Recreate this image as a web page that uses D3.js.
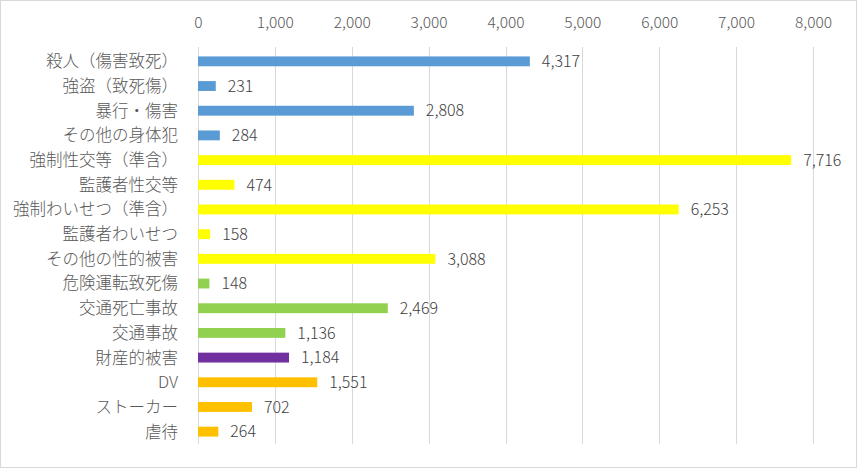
<!DOCTYPE html>
<html><head><meta charset="utf-8">
<script src="https://cdn.jsdelivr.net/npm/d3@7"></script>
<style>body{margin:0;background:#fff}</style>
</head><body>
<svg id="c" width="857" height="468"></svg>
<script>
const categories = ["殺人(傷害致死)","強盗(致死傷)","暴行・傷害","その他の身体犯","強制性交等(準含)","監護者性交等","強制わいせつ(準含)","監護者わいせつ","その他の性的被害","危険運転致死傷","交通死亡事故","交通事故","財産的被害","DV","ストーカー","虐待"];
const values = [4317,231,2808,284,7716,474,6253,158,3088,148,2469,1136,1184,1551,702,264];
const groups = ["body","body","body","body","sex","sex","sex","sex","sex","traffic","traffic","traffic","property","other","other","other"];
const groupColors = {body:"#5B9BD5",sex:"#FFFF00",traffic:"#92D050",property:"#7030A0",other:"#FFC000"};
const tickValues = [0,1000,2000,3000,4000,5000,6000,7000,8000];

const svg = d3.select("#c");
const W = 857, H = 468;
svg.append("rect").attr("x",0.5).attr("y",0.5).attr("width",W-1).attr("height",H-1)
  .attr("fill","#fff").attr("stroke","#d9d9d9");

const x = d3.scaleLinear().domain([0,8000]).range([198,813]);
const y = d3.scaleBand().domain(categories).range([49,444]).paddingInner(0.6).paddingOuter(0.3);
const fmt = d3.format(",");
const font = "'Noto Sans CJK JP','Noto Sans',sans-serif";

// gridlines
svg.append("g").selectAll("line").data(tickValues).join("line")
  .attr("x1",d=>Math.round(x(d))+0.5).attr("x2",d=>Math.round(x(d))+0.5)
  .attr("y1",47).attr("y2",444).attr("stroke","#d9d9d9").attr("stroke-width",1);

// top axis
const ax = svg.append("g").attr("transform","translate(0,28)")
  .call(d3.axisTop(x).tickValues(tickValues).tickFormat(fmt).tickSize(0).tickPadding(0));
ax.select(".domain").remove();
ax.selectAll("text").attr("font-family",font).attr("font-size",15.5).attr("font-weight",300).attr("fill","#595959");

// bars
svg.append("g").selectAll("rect").data(values).join("rect")
  .attr("x",x(0)).attr("y",(d,i)=>y(categories[i]))
  .attr("width",d=>x(d)-x(0)).attr("height",y.bandwidth())
  .attr("fill",(d,i)=>groupColors[groups[i]]);

// value labels
svg.append("g").selectAll("text").data(values).join("text")
  .attr("x",d=>x(d)+12).attr("y",(d,i)=>y(categories[i])+y.bandwidth()/2)
  .attr("dy","0.36em").attr("font-family",font).attr("font-size",16).attr("font-weight",300).attr("fill","#404040")
  .text(d=>fmt(d));

// category labels
const ay = svg.append("g").attr("transform","translate(178,0)")
  .call(d3.axisLeft(y).tickSize(0).tickPadding(0));
ay.select(".domain").remove();
ay.selectAll("text").attr("font-family",font).attr("font-size",16.5).attr("font-weight",300).attr("fill","#595959")
  .attr("dy","0.36em")
  .text(d=>d.replace(/\(/g,"（").replace(/\)/g,"）"));
</script>
</body></html>
